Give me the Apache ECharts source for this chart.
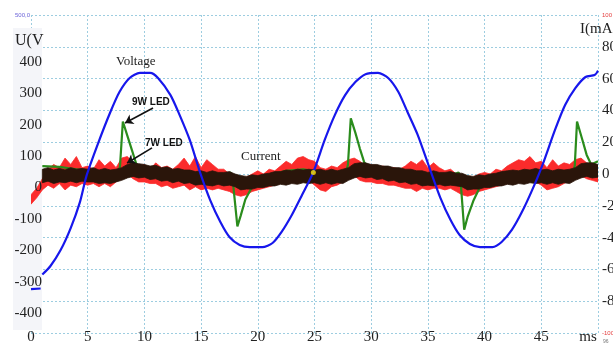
<!DOCTYPE html>
<html>
<head>
<meta charset="utf-8">
<script src="https://cdn.jsdelivr.net/npm/echarts@6/dist/echarts.min.js"></script>
<style>
  html, body { margin: 0; padding: 0; background: #ffffff; }
  #chart { width: 613px; height: 345px; }
</style>
</head>
<body>
<div id="chart"></div>
<script>
// Mains voltage (V) against time (ms)
const voltTime = [0, 0.85, 0.95, 1.0, 1.7, 2.6, 3.5, 4.3, 4.9, 5.9, 7.0, 7.8, 8.7, 9.6, 10.5, 11.2, 12.3, 13.1, 14.0, 14.9, 15.8, 16.7, 17.5, 18.4, 19.3, 20.4, 21.3, 22.1, 23.0, 23.9, 24.9, 25.9, 26.8, 27.7, 28.6, 29.5, 30.6, 31.5, 32.4, 33.2, 34.1, 35.2, 36.1, 37.0, 37.8, 38.7, 39.6, 40.7, 41.5, 42.4, 43.3, 44.2, 45.1, 46.2, 47.1, 48.0, 48.9, 49.7, 50.0];
const voltValue = [-362, -360, '-', -316, -290, -240, -170, -90, -5, 95, 195, 258, 302, 318, 318, 302, 248, 186, 107, 6, -82, -151, -198, -223, -230, -230, -217, -182, -129, -66, 6, 107, 186, 248, 289, 314, 318, 302, 258, 195, 123, 13, -75, -145, -192, -220, -230, -230, -214, -176, -119, -50, 28, 138, 217, 270, 305, 311, 325];

// 9W LED current (mA)
const greenTime = [1.0, 2.5, 4.0, 5.5, 7.0, 7.75, 7.85, 8.1, 8.5, 8.9, 9.3, 10.0, 12.0, 14.0, 16.0, 17.0, 17.6, 17.75, 18.2, 18.5, 18.9, 19.5, 20.2, 21.0, 22.5, 24.0, 25.5, 27.0, 27.8, 27.95, 28.2, 28.6, 29.0, 29.4, 30.0, 32.0, 34.0, 36.0, 37.0, 37.7, 37.85, 38.2, 38.5, 39.0, 39.6, 40.3, 41.0, 42.5, 44.0, 45.5, 47.0, 47.8, 47.95, 48.15, 48.6, 49.0, 49.4, 50.0];
const greenValue = [5, 4.5, 3, 1, 1, 2, 5, 33, 24, 15, 6, 4, 1, -1, -2, -1, 1, -1, -33, -26, -16, -8, -5, -1, 2, 3, 1, 0, 1, 6, 35, 26, 16, 7, 4, 1, -1, -2, -1, 1, -1, -35, -27, -17, -8, -5, -2, 1, 2, 1, 0, 1, 5, 33, 22, 12, 6, 8];

// 7W LED current envelope (mA): upper and lower edge of the noisy trace
const redTime = [0, 0.5, 1, 1.5, 2, 2.5, 3, 3.5, 4, 4.5, 5, 5.5, 6, 6.5, 7, 7.5, 8, 8.5, 9, 9.5, 10, 10.5, 11, 11.5, 12, 12.5, 13, 13.5, 14, 14.5, 15, 15.5, 16, 16.5, 17, 17.5, 18, 18.5, 19, 19.5, 20, 20.5, 21, 21.5, 22, 22.5, 23, 23.5, 24, 24.5, 25, 25.5, 26, 26.5, 27, 27.5, 28, 28.5, 29, 29.5, 30, 30.5, 31, 31.5, 32, 32.5, 33, 33.5, 34, 34.5, 35, 35.5, 36, 36.5, 37, 37.5, 38, 38.5, 39, 39.5, 40, 40.5, 41, 41.5, 42, 42.5, 43, 43.5, 44, 44.5, 45, 45.5, 46, 46.5, 47, 47.5, 48, 48.5, 49, 49.5, 50];
const redHi = [-13, -9, -3, 3, 6, 4, 10, 6, 11, 4, 5, 3, 9, 5, 8, 4, 10, 11, 7, 5, 6, 3, 7, 4, 5, 3, 6, 10, 5, 11, 4, 9, 6, 3, 3, 0, -3, -3, -2, 0, 2, 0, 3, 2, 5, 8, 6, 10, 11, 9, 8, 4, 3, 5, 4, 7, 9, 10, 8, 5, 6, 3, 5, 4, 4, 3, 5, 8, 6, 9, 4, 7, 4, 2, 3, 0, -3, -3, -2, 0, 1, 0, 3, 2, 5, 7, 9, 8, 11, 7, 8, 4, 9, 5, 7, 6, 9, 10, 7, 6, 5];
const redLo = [-19, -15, -10, -7, -9, -6, -10, -7, -8, -6, -7, -6, -8, -6, -8, -5, -2, 0, -3, -5, -5, -6, -6, -8, -7, -9, -8, -7, -10, -8, -10, -9, -10, -9, -10, -11, -13, -14, -13, -11, -10, -9, -8, -7, -6, -4, -4, -2, -3, -4, -7, -10, -11, -8, -7, -5, -2, -1, -4, -5, -5, -6, -6, -7, -7, -8, -9, -9, -11, -9, -10, -9, -9, -10, -9, -11, -13, -14, -13, -11, -10, -9, -8, -7, -6, -5, -4, -3, -4, -5, -7, -10, -9, -8, -6, -4, -2, -1, -3, -4, -5];

// Third current trace envelope (mA)
const blackTime = [1, 1.5, 2, 2.5, 3, 3.5, 4, 4.5, 5, 5.5, 6, 6.5, 7, 7.5, 8, 8.5, 9, 9.5, 10, 10.5, 11, 11.5, 12, 12.5, 13, 13.5, 14, 14.5, 15, 15.5, 16, 16.5, 17, 17.5, 18, 18.5, 19, 19.5, 20, 20.5, 21, 21.5, 22, 22.5, 23, 23.5, 24, 24.5, 25, 25.5, 26, 26.5, 27, 27.5, 28, 28.5, 29, 29.5, 30, 30.5, 31, 31.5, 32, 32.5, 33, 33.5, 34, 34.5, 35, 35.5, 36, 36.5, 37, 37.5, 38, 38.5, 39, 39.5, 40, 40.5, 41, 41.5, 42, 42.5, 43, 43.5, 44, 44.5, 45, 45.5, 46, 46.5, 47, 47.5, 48, 48.5, 49, 49.5, 50];
const blackHi = [3, 4, 2.5, 3.5, 2.5, 4, 3, 3.5, 3, 4, 2.5, 3.5, 2.5, 3, 4, 6, 7, 6.5, 6, 5, 5.5, 4, 4.5, 3, 3.5, 2.5, 2.5, 1.5, 2, 1, 2, 1, 1, 1.5, 0, -1, -1.5, -0.5, -1, 0, 0.5, 1.5, 1.5, 2.5, 2, 3, 2.5, 3, 2.5, 3, 2, 3, 2, 3, 4, 6.5, 7, 7, 6, 6, 5, 5, 4, 4, 3, 3, 2, 2, 1, 2, 1, 1, 1.5, 0.5, 0.5, -1, -1.5, -0.5, -1, 0, 0.5, 1.5, 2, 2.5, 2, 3, 2.5, 3.5, 2.5, 3, 2, 3, 2.5, 3, 4, 6.5, 7, 7, 6];
const blackLo = [-5.5, -4.5, -6, -5, -5.5, -4.5, -5.5, -4.5, -5, -5, -6, -5.5, -6, -5, -4, -2.5, -1.5, -2.5, -2, -3.5, -3, -4.5, -4, -5.5, -4.5, -6, -5.5, -7, -6.5, -7, -7.5, -6.5, -7.5, -7, -8, -10, -9.5, -9.5, -8.5, -8.5, -7.5, -7.5, -6.5, -7, -6, -6.5, -5.5, -6, -5.5, -6.5, -5.5, -6.5, -5.5, -6, -4, -2.5, -1.5, -2.5, -2, -3.5, -3, -4.5, -4, -5.5, -5, -6.5, -6, -7.5, -7, -7.5, -6.5, -7.5, -7, -7.5, -8, -10, -9.5, -9.5, -8.5, -8.5, -7.5, -7.5, -6.5, -7, -6, -6.5, -5.5, -6, -5.5, -6.5, -5.5, -6.5, -5.5, -6, -4, -2.5, -1.5, -2.5, -2];

// Cursor marker on the time axis
const cursorPoint = [24.9, 1];

// Axis ticks
const timeTicks = { min: 0, max: 50, step: 5 };
const voltTicks = { min: -500, max: 500, step: 100 };
const currentTicks = { min: -100, max: 100, step: 20 };

const SERIF = '"Liberation Serif","Times New Roman","DejaVu Serif",serif';
const SANS = '"Liberation Sans",Arial,"DejaVu Sans",sans-serif';
const GRID_LINE = { show: true, lineStyle: { color: '#9dcde0', width: 1, type: [2, 2] } };

// A noisy trace drawn as the filled region between its upper and lower envelope
function bandSeries(name, times, lo, hi, color, z) {
  const data = times.map((t, i) => [t, lo[i], hi[i]]);
  return {
    type: 'custom',
    name: name,
    xAxisIndex: 0,
    yAxisIndex: 1,
    z: z,
    silent: true,
    clip: true,
    data: data,
    encode: { x: 0, y: [1, 2] },
    renderItem: function (params, api) {
      if (params.dataIndex !== 0) return null;
      const upper = data.map(d => api.coord([d[0], d[2]]));
      const lower = data.slice().reverse().map(d => api.coord([d[0], d[1]]));
      return {
        type: 'polygon',
        shape: { points: upper.concat(lower) },
        style: { fill: color, stroke: color, lineWidth: 0.8 }
      };
    }
  };
}

const chart = echarts.init(document.getElementById('chart'), null, { renderer: 'canvas' });

chart.setOption({
  animation: false,
  backgroundColor: '#ffffff',
  grid: [
    { left: 31, right: 15, top: 15, bottom: 12, outerBoundsMode: 'none', containLabel: false },
    { left: 44, width: 1, top: 30.6, height: 313.8, outerBoundsMode: 'none', containLabel: false }
  ],
  xAxis: [
    {
      type: 'value', gridIndex: 0,
      min: timeTicks.min, max: timeTicks.max, interval: timeTicks.step,
      axisLine: { show: false }, axisTick: { show: false },
      splitLine: GRID_LINE,
      axisLabel: {
        margin: -3, color: '#222', fontFamily: SERIF, fontSize: 15,
        formatter: v => v === 50 ? '{ms|ms}' : String(v),
        rich: { ms: { fontFamily: SERIF, fontSize: 15, color: '#222', padding: [0, 20, 0, 0] } }
      }
    },
    { type: 'value', gridIndex: 1, min: 0, max: 1, show: false }
  ],
  yAxis: [
    {
      // scope grid, 100 V per division
      type: 'value', gridIndex: 0, position: 'left',
      min: voltTicks.min, max: voltTicks.max, interval: voltTicks.step,
      axisLine: { show: false }, axisTick: { show: false },
      splitLine: GRID_LINE,
      axisLabel: {
        margin: 1, color: '#6b63d8', fontFamily: SANS, fontSize: 6,
        formatter: v => v === 500 ? '500,0' : ''
      }
    },
    {
      type: 'value', gridIndex: 0, position: 'right',
      min: currentTicks.min, max: currentTicks.max, interval: currentTicks.step,
      axisLine: { show: false }, axisTick: { show: false },
      splitLine: { show: false },
      axisLabel: {
        margin: 4, color: '#222', fontFamily: SERIF, fontSize: 15,
        formatter: v => Math.abs(v) === 100 ? '{s|' + v + '}' : String(v),
        rich: { s: { fontSize: 6, color: '#e43c3c', fontFamily: SANS } }
      }
    },
    {
      // printed voltage scale
      type: 'value', gridIndex: 1, position: 'left', z: 6,
      min: voltTicks.min, max: voltTicks.max, interval: voltTicks.step,
      axisLine: { show: false }, axisTick: { show: false },
      splitLine: { show: false },
      axisLabel: {
        margin: 2, color: '#222', fontFamily: SERIF, fontSize: 15,
        formatter: v => Math.abs(v) === 500 ? '' : String(v)
      }
    }
  ],
  graphic: [
    { type: 'rect', z: 1, silent: true, shape: { x: 13, y: 28, width: 29, height: 302 }, style: { fill: '#f4f5f9' } },
    { type: 'text', z: 10, left: 15, top: 33, style: { text: 'U(V', font: '16px ' + SERIF, fill: '#222' } },
    { type: 'text', z: 10, left: 580, top: 22, style: { text: 'I(mA)', font: '15px ' + SERIF, fill: '#222' } },
    { type: 'text', z: 10, left: 116, top: 55, style: { text: 'Voltage', font: '13px ' + SERIF, fill: '#222' } },
    { type: 'text', z: 10, left: 241, top: 150, style: { text: 'Current', font: '13px ' + SERIF, fill: '#222' } },
    { type: 'text', z: 10, left: 132, top: 97, style: { text: '9W LED', font: 'bold 10px ' + SANS, fill: '#111' } },
    { type: 'text', z: 10, left: 145, top: 138, style: { text: '7W LED', font: 'bold 10px ' + SANS, fill: '#111' } },
    { type: 'text', z: 10, left: 603, top: 339, style: { text: '96', font: '5px ' + SANS, fill: '#777' } }
  ],
  series: [
    bandSeries('7W LED', redTime, redLo, redHi, '#fb2b2b', 2),
    {
      type: 'line', name: '9W LED', xAxisIndex: 0, yAxisIndex: 1, z: 3,
      data: greenTime.map((t, i) => [t, greenValue[i]]),
      showSymbol: false, silent: true,
      lineStyle: { color: '#2a8c1c', width: 2.2 }
    },
    bandSeries('Current', blackTime, blackLo, blackHi, '#2a150a', 4),
    {
      type: 'line', name: 'Voltage', xAxisIndex: 0, yAxisIndex: 0, z: 5,
      data: voltTime.map((t, i) => [t, voltValue[i]]),
      showSymbol: false, silent: true, smooth: 0.25, connectNulls: false,
      lineStyle: { color: '#1717ec', width: 2.2 }
    },
    {
      type: 'scatter', name: 'cursor', xAxisIndex: 0, yAxisIndex: 1, z: 8,
      data: [cursorPoint], symbolSize: 5, silent: true,
      itemStyle: { color: '#ffe600' },
      markLine: {
        silent: true, symbol: ['none', 'arrow'], symbolSize: 8,
        label: { show: false },
        lineStyle: { color: '#111', width: 1.6, type: 'solid' },
        data: [
          [{ coord: [10.76, 41.5] }, { coord: [8.29, 32.1] }],
          [{ coord: [10.67, 16.4] }, { coord: [8.47, 6.9] }]
        ]
      }
    }
  ]
});
</script>
</body>
</html>
